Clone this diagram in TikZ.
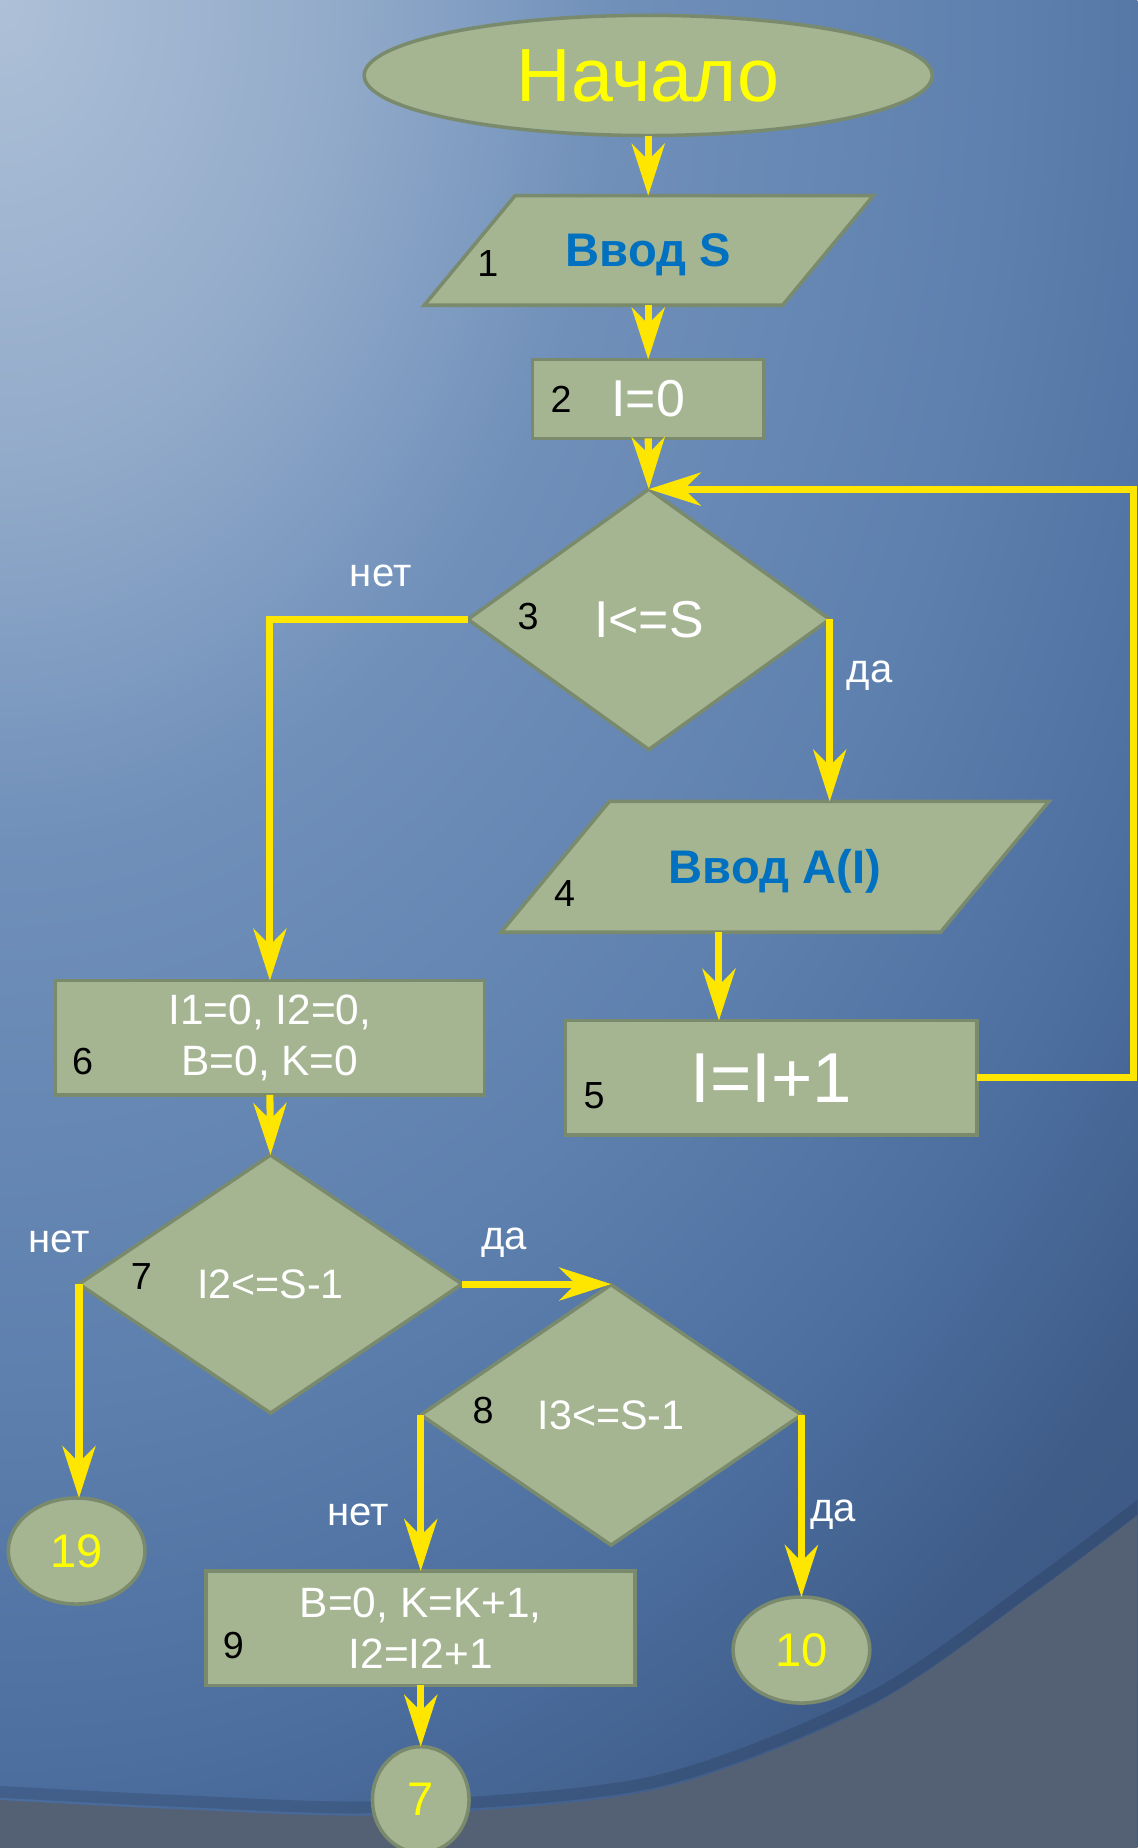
\documentclass[tikz,border=0pt]{standalone}
\usepackage{fontspec}
\setmainfont{Liberation Sans}
\usetikzlibrary{shapes.geometric,arrows.meta,calc}
\definecolor{sage}{HTML}{A5B592}
\definecolor{sageline}{HTML}{7A8A6C}
\definecolor{ylw}{HTML}{FFE600}
\definecolor{tblue}{HTML}{0070C0}
\definecolor{tyel}{HTML}{FFFF00}
\definecolor{bg0}{HTML}{ADC0D7}
\definecolor{bg1}{HTML}{93ABCA}
\definecolor{bg2}{HTML}{7090BA}
\definecolor{bg3}{HTML}{5E80AE}
\definecolor{bg4}{HTML}{4C6FA0}
\definecolor{bg5}{HTML}{3F5C88}
\definecolor{bg6}{HTML}{3B5782}
\definecolor{lowbg}{HTML}{546175}
\pgfdeclareradialshading{bgsh}{\pgfpoint{0bp}{0bp}}{color(0bp)=(bg0); color(3.75bp)=(bg1); color(6.875bp)=(bg2); color(11.25bp)=(bg3); color(14.375bp)=(bg4); color(16.875bp)=(bg5); color(20bp)=(bg6); color(50bp)=(bg6)}
\begin{document}
\begin{tikzpicture}[x=1pt,y=-1pt,
  flow/.style={draw=sageline, line width=3pt, fill=sage, inner sep=0pt, outer sep=0pt},
  recbox/.style={flow, rectangle},
  dia/.style={flow, diamond},
  term/.style={flow, ellipse},
  iotext/.style={rectangle, inner sep=0pt, outer sep=0pt},
  conn/.style={draw=ylw, line width=6pt, -{Stealth[length=44pt,width=28pt,inset=14pt]}},
  num/.style={font=\fontsize{32}{38}\selectfont, text=black, inner sep=0pt},
  lbl/.style={font=\fontsize{34}{40}\selectfont, text=white, inner sep=0pt},
  wtxt/.style={text=white},
  btxt/.style={text=tblue, font=\fontsize{40}{48}\selectfont\bfseries, text depth=0pt},
  ytxt/.style={text=tyel}
]
\useasboundingbox (0,0) rectangle (965,1568);
\begin{scope}
  \clip (0,0) rectangle (965,1568);
  \shade[shading=bgsh] (0,0) ellipse [x radius=1900pt, y radius=2600pt];
  \draw[line width=10pt, draw=black, opacity=0.12] plot[smooth] coordinates {(-5,1520) (150,1528) (330,1533) (554,1512) (738,1441) (880,1343) (970,1275)};
  \fill[lowbg] plot[smooth] coordinates {(-5,1527) (150,1535) (330,1540) (554,1519) (738,1448) (880,1350) (970,1282)} -- (970,1575) -- (-5,1575) -- cycle;
\end{scope}

% parallelogram outlines (input blocks)
\path[flow] (550,212.5) ++(-190,46.5) -- ++(304,0) -- ++(77,-93) -- ++(-304,0) -- cycle;
\path[flow] (657.5,735.5) ++(-232.5,55.5) -- ++(373,0) -- ++(92,-111) -- ++(-373,0) -- cycle;

% nodes
\node[term, ytxt, minimum width=482pt, minimum height=102pt, font=\fontsize{64}{76}\selectfont] (start) at (550,64) {Начало};
\node[iotext, btxt, minimum width=380pt, minimum height=93pt] (p1) at (550,212.5) {Ввод S};
\node[recbox, wtxt, minimum width=196pt, minimum height=67pt, font=\fontsize{44}{52}\selectfont] (r2) at (550,338.5) {I=0};
\node[dia, wtxt, minimum width=307pt, minimum height=221pt, font=\fontsize{44}{52}\selectfont] (d3) at (550.5,525.5) {I<=S};
\node[iotext, btxt, minimum width=465pt, minimum height=111pt] (p4) at (657.5,735.5) {Ввод A(I)};
\node[recbox, wtxt, minimum width=349pt, minimum height=97pt, font=\fontsize{60}{72}\selectfont] (r5) at (654.5,914.5) {I=I+1};
\node[recbox, wtxt, minimum width=364pt, minimum height=97pt, font=\fontsize{36}{43}\selectfont, align=center] (r6) at (229,880.5) {\raisebox{-3pt}{I1=0, I2=0,}\\\raisebox{-3pt}{B=0, K=0}};
\node[dia, wtxt, minimum width=325pt, minimum height=219pt, font=\fontsize{35}{42}\selectfont] (d7) at (229.5,1089.5) {I2<=S-1};
\node[dia, wtxt, minimum width=323pt, minimum height=221pt, font=\fontsize{35}{42}\selectfont] (d8) at (518.5,1200.5) {I3<=S-1};
\node[recbox, wtxt, minimum width=364pt, minimum height=97pt, font=\fontsize{36}{43}\selectfont, align=center] (r9) at (357,1381.5) {B=0, K=K+1,\\I2=I2+1};
\node[term, ytxt, minimum width=116pt, minimum height=90pt, font=\fontsize{40}{48}\selectfont] (c19) at (65,1316) {19};
\node[term, ytxt, minimum width=116pt, minimum height=90pt, font=\fontsize{40}{48}\selectfont] (c10) at (680,1400) {10};
\node[term, ytxt, minimum width=82pt, minimum height=90pt, font=\fontsize{40}{48}\selectfont] (c7) at (357,1527) {7};

% block numbers
\node[num] (n1) at (414,224) {1};
\node[num] (n2) at (476,339) {2};
\node[num] (n3) at (448,523) {3};
\node[num] (n4) at (479,758) {4};
\node[num] (n5) at (504,930) {5};
\node[num] (n6) at (70,901) {6};
\node[num] (n7) at (120,1083) {7};
\node[num] (n8) at (410,1197) {8};
\node[num] (n9) at (198,1396) {9};

% branch labels
\node[lbl] (l3n) at (323,489) {нет};
\node[lbl] (l3y) at (738,573) {да};
\node[lbl] (l7n) at (50,1054) {нет};
\node[lbl] (l7y) at (428,1054) {да};
\node[lbl] (l8n) at (304,1285) {нет};
\node[lbl] (l8y) at (707,1285) {да};

% connectors
\coordinate (a45) at (610,914.5);
\draw[conn] (start.south) -- (start.south |- p1.north);
\draw[conn] (r2.north |- p1.south) -- (r2.north);
\draw[conn] (r2.south) -- (d3.north);
\draw[conn] (r5.east) -- ++(133,0) |- (d3.north);
\draw[conn] (d3.west) -| (r6.north);
\draw[conn] (d3.east) -- (d3.east |- p4.north);
\draw[conn] (a45 |- p4.south) -- (a45 |- r5.north);
\draw[conn] (r6.south) -- (d7.north);
\draw[conn] (d7.west) -- (d7.west |- c19.north);
\draw[conn] (d7.east) -- (d7.east -| d8.north);
\draw[conn] (d8.west) -- (d8.west |- r9.north);
\draw[conn] (d8.east) -- (d8.east |- c10.north);
\draw[conn] (r9.south) -- (c7.north);
\end{tikzpicture}
\end{document}
